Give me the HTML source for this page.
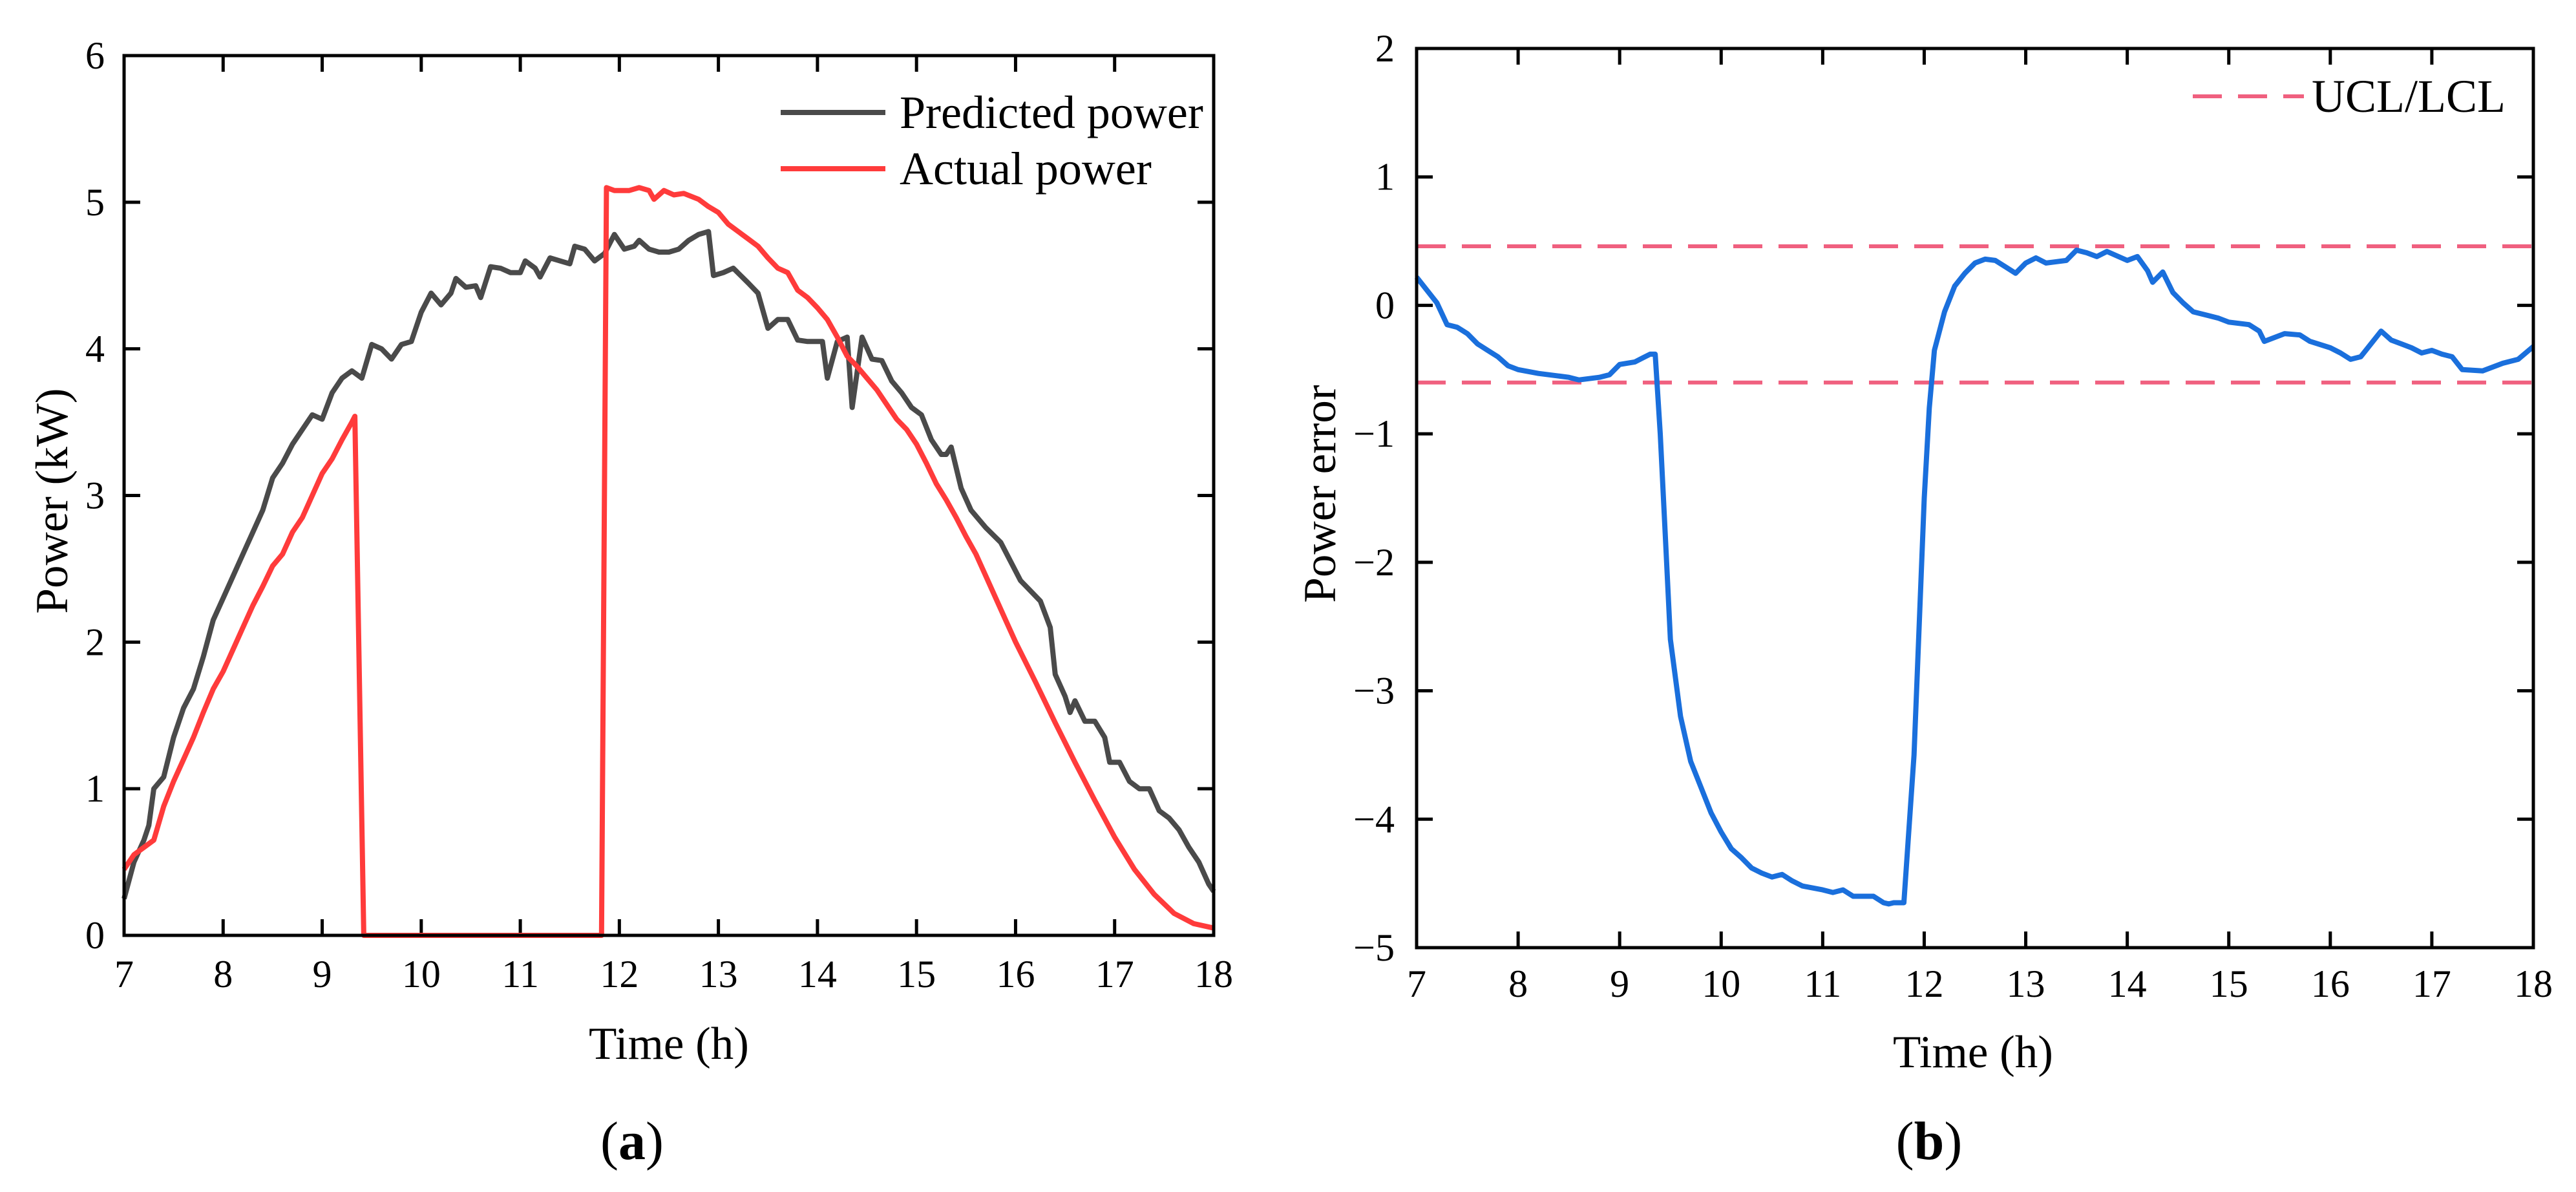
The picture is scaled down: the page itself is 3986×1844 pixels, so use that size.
<!DOCTYPE html>
<html><head><meta charset="utf-8"><style>
html,body{margin:0;padding:0;background:#fff;}
svg{display:block;font-family:"Liberation Serif",serif;}
</style></head><body>
<svg id="fig" width="3986" height="1844" viewBox="0 0 3986 1844" xmlns="http://www.w3.org/2000/svg">
<g id="pa"></g>
<g id="pb"></g>
</svg>
<script>
const xTicks = [7,8,9,10,11,12,13,14,15,16,17,18];
const yTicksA = [0,1,2,3,4,5,6];
const yTicksB = [2,1,0,-1,-2,-3,-4,-5];
const predT = [7.0,7.1,7.2,7.25,7.3,7.4,7.5,7.6,7.7,7.8,7.9,8.0,8.1,8.2,8.3,8.4,8.5,8.6,8.7,8.8,8.9,9.0,9.1,9.2,9.3,9.4,9.5,9.6,9.7,9.8,9.9,10.0,10.1,10.2,10.3,10.35,10.45,10.55,10.6,10.7,10.8,10.9,11.0,11.05,11.15,11.2,11.3,11.4,11.5,11.55,11.65,11.75,11.85,11.95,12.05,12.15,12.2,12.3,12.4,12.5,12.6,12.7,12.8,12.9,12.95,13.05,13.15,13.3,13.4,13.5,13.6,13.7,13.8,13.9,14.0,14.05,14.1,14.2,14.3,14.35,14.45,14.55,14.65,14.75,14.85,14.95,15.05,15.15,15.25,15.3,15.35,15.45,15.55,15.7,15.85,15.95,16.05,16.15,16.25,16.35,16.4,16.5,16.55,16.6,16.7,16.8,16.9,16.95,17.05,17.15,17.25,17.35,17.45,17.55,17.65,17.75,17.85,17.95,18.0];
const predV = [0.25,0.5,0.65,0.75,1.0,1.08,1.35,1.55,1.68,1.9,2.15,2.3,2.45,2.6,2.75,2.9,3.12,3.22,3.35,3.45,3.55,3.52,3.7,3.8,3.85,3.8,4.03,4.0,3.93,4.03,4.05,4.25,4.38,4.3,4.38,4.48,4.42,4.43,4.35,4.56,4.55,4.52,4.52,4.6,4.55,4.49,4.62,4.6,4.58,4.7,4.68,4.6,4.65,4.78,4.68,4.7,4.74,4.68,4.66,4.66,4.68,4.74,4.78,4.8,4.5,4.52,4.55,4.45,4.38,4.14,4.2,4.2,4.06,4.05,4.05,4.05,3.8,4.05,4.08,3.6,4.08,3.93,3.92,3.78,3.7,3.6,3.55,3.38,3.28,3.28,3.33,3.05,2.9,2.78,2.68,2.55,2.42,2.35,2.28,2.1,1.78,1.63,1.52,1.6,1.46,1.46,1.35,1.18,1.18,1.05,1.0,1.0,0.85,0.8,0.72,0.6,0.5,0.35,0.3];
const actT = [7.0,7.1,7.2,7.3,7.4,7.5,7.6,7.7,7.8,7.9,8.0,8.1,8.2,8.3,8.4,8.5,8.6,8.7,8.8,8.9,9.0,9.1,9.2,9.3,9.33,9.42,11.82,11.87,11.95,12.1,12.2,12.3,12.35,12.45,12.55,12.65,12.8,12.9,13.0,13.1,13.2,13.3,13.4,13.5,13.6,13.7,13.8,13.9,14.0,14.1,14.2,14.3,14.4,14.5,14.6,14.7,14.8,14.9,15.0,15.1,15.2,15.3,15.4,15.5,15.6,15.7,15.8,15.9,16.0,16.2,16.4,16.6,16.8,17.0,17.2,17.4,17.6,17.8,18.0];
const actV = [0.45,0.55,0.6,0.65,0.88,1.05,1.2,1.35,1.52,1.68,1.8,1.95,2.1,2.25,2.38,2.52,2.6,2.75,2.85,3.0,3.15,3.25,3.38,3.5,3.54,0,0,5.1,5.08,5.08,5.1,5.08,5.02,5.08,5.05,5.06,5.02,4.97,4.93,4.85,4.8,4.75,4.7,4.62,4.55,4.52,4.4,4.35,4.28,4.2,4.08,3.95,3.88,3.8,3.72,3.62,3.52,3.45,3.35,3.22,3.08,2.97,2.85,2.72,2.6,2.45,2.3,2.15,2.0,1.73,1.45,1.18,0.92,0.67,0.45,0.28,0.15,0.08,0.05];
const errT = [7.0,7.1,7.2,7.3,7.4,7.5,7.6,7.7,7.8,7.9,8.0,8.2,8.4,8.5,8.6,8.7,8.8,8.9,9.0,9.15,9.3,9.35,9.4,9.45,9.5,9.6,9.7,9.8,9.9,10.0,10.1,10.2,10.3,10.4,10.5,10.6,10.7,10.8,11.0,11.1,11.2,11.3,11.5,11.6,11.65,11.7,11.8,11.9,11.95,12.0,12.05,12.1,12.2,12.3,12.4,12.5,12.6,12.7,12.8,12.9,13.0,13.1,13.2,13.4,13.5,13.6,13.7,13.8,14.0,14.1,14.2,14.25,14.35,14.45,14.55,14.65,14.8,14.9,15.0,15.2,15.3,15.35,15.45,15.55,15.7,15.8,16.0,16.1,16.2,16.3,16.4,16.5,16.6,16.7,16.8,16.9,17.0,17.1,17.2,17.3,17.5,17.7,17.85,18.0];
const errV = [0.22,0.12,0.02,-0.15,-0.17,-0.22,-0.3,-0.35,-0.4,-0.47,-0.5,-0.53,-0.55,-0.56,-0.58,-0.57,-0.56,-0.54,-0.46,-0.44,-0.38,-0.38,-1.0,-1.8,-2.6,-3.2,-3.55,-3.75,-3.95,-4.1,-4.23,-4.3,-4.38,-4.42,-4.45,-4.43,-4.48,-4.52,-4.55,-4.57,-4.55,-4.6,-4.6,-4.65,-4.66,-4.65,-4.65,-3.5,-2.5,-1.5,-0.8,-0.35,-0.05,0.15,0.25,0.33,0.36,0.35,0.3,0.25,0.33,0.37,0.33,0.35,0.43,0.41,0.38,0.42,0.35,0.38,0.27,0.18,0.26,0.1,0.02,-0.05,-0.08,-0.1,-0.13,-0.15,-0.2,-0.28,-0.25,-0.22,-0.23,-0.28,-0.33,-0.37,-0.42,-0.4,-0.3,-0.2,-0.27,-0.3,-0.33,-0.37,-0.35,-0.38,-0.4,-0.5,-0.51,-0.45,-0.42,-0.32];
const ucl = 0.46, lcl = -0.6;

const NS = "http://www.w3.org/2000/svg";
function mk(parent, tag, attrs, text){
  const e = document.createElementNS(NS, tag);
  for (const k in attrs) e.setAttribute(k, attrs[k]);
  if (text !== undefined) e.textContent = text;
  parent.appendChild(e);
  return e;
}
function makeChart(g, L, R, T, B, ymin, ymax, yTicks, tickLabelBase, tickRight){
  const sx = v => L + (v - 7) / 11 * (R - L);
  const sy = v => B - (v - ymin) / (ymax - ymin) * (B - T);
  xTicks.forEach(t => {
    const x = sx(t);
    const a = mk(g,'line',{x1:x,y1:B,x2:x,y2:B-25,stroke:'#000','stroke-width':5});
     
    const b = mk(g,'line',{x1:x,y1:T,x2:x,y2:T+25,stroke:'#000','stroke-width':5});
     
    const l = mk(g,'text',{x:x,y:tickLabelBase,'text-anchor':'middle','font-size':60},String(t));
     
  });
  yTicks.forEach(t => {
    const y = sy(t);
    const a = mk(g,'line',{x1:L,y1:y,x2:L+25,y2:y,stroke:'#000','stroke-width':5});
     
    const b = mk(g,'line',{x1:R,y1:y,x2:R-25,y2:y,stroke:'#000','stroke-width':5});
     
    const l = mk(g,'text',{x:tickRight,y:y+20,'text-anchor':'end','font-size':60},t<0?('\u2212'+(-t)):String(t));
     
  });
  return {sx, sy};
}
function line(g, s, xs, ys, color, w, dash){
  const d = xs.map((x,i)=>(i?'L':'M')+s.sx(x).toFixed(1)+','+s.sy(ys[i]).toFixed(1)).join('');
  const p = mk(g,'path',{d:d,fill:'none',stroke:color,'stroke-width':w,'stroke-linejoin':'round'});
  if (dash) p.setAttribute('stroke-dasharray', dash);
  return p;
}
// Chart A
const ga = document.getElementById('pa');
const A = {L:192,R:1878,T:86,B:1447};
const sa = makeChart(ga, A.L, A.R, A.T, A.B, 0, 6, yTicksA, 1527, 162);
const pp = line(ga, sa, predT, predV, '#4a4a4a', 8);


const ap = line(ga, sa, actT, actV, '#ff3b3b', 8);


const fa = mk(ga,'rect',{x:A.L,y:A.T,width:A.R-A.L,height:A.B-A.T,fill:'none',stroke:'#000','stroke-width':5});


const lg1 = mk(ga,'line',{x1:1208,y1:174,x2:1370,y2:174,stroke:'#4a4a4a','stroke-width':8});


const lt1 = mk(ga,'text',{x:1392,y:198,'font-size':72},'Predicted power');


const lg2 = mk(ga,'line',{x1:1208,y1:261,x2:1370,y2:261,stroke:'#ff3b3b','stroke-width':8});


const lt2 = mk(ga,'text',{x:1392,y:285,'font-size':72},'Actual power');


const xa = mk(ga,'text',{x:1035,y:1638,'text-anchor':'middle','font-size':71},'Time (h)');


const ya = mk(ga,'text',{x:0,y:0,'text-anchor':'middle','font-size':71,transform:'translate(104,775) rotate(-90)'},'Power (kW)');


const ca = mk(ga,'text',{x:978,y:1793,'text-anchor':'middle','font-size':84},'');


mk(ca,'tspan',{},'(');mk(ca,'tspan',{'font-weight':'bold'},'a');mk(ca,'tspan',{},')');

// Chart B
const gb = document.getElementById('pb');
const Bc = {L:2192,R:3920,T:75,B:1466};
const sb = makeChart(gb, Bc.L, Bc.R, Bc.T, Bc.B, -5, 2, yTicksB, 1542, 2158);
const u = line(gb, sb, [7,18], [ucl,ucl], '#f0607f', 6, '45 25');


const lw = line(gb, sb, [7,18], [lcl,lcl], '#f0607f', 6, '45 25');


const ep = line(gb, sb, errT, errV, '#1a6fdc', 8);


const fb = mk(gb,'rect',{x:Bc.L,y:Bc.T,width:Bc.R-Bc.L,height:Bc.B-Bc.T,fill:'none',stroke:'#000','stroke-width':5});


const lg3 = mk(gb,'line',{x1:3393,y1:149,x2:3565,y2:149,stroke:'#f0607f','stroke-width':6,'stroke-dasharray':'45 25'});


const lt3 = mk(gb,'text',{x:3577,y:173,'font-size':72},'UCL/LCL');


const xb = mk(gb,'text',{x:3053,y:1651,'text-anchor':'middle','font-size':71},'Time (h)');


const yb = mk(gb,'text',{x:0,y:0,'text-anchor':'middle','font-size':71,transform:'translate(2066,764) rotate(-90)'},'Power error');


const cb = mk(gb,'text',{x:2985,y:1793,'text-anchor':'middle','font-size':84},'');


mk(cb,'tspan',{},'(');mk(cb,'tspan',{'font-weight':'bold'},'b');mk(cb,'tspan',{},')');
</script>
</body></html>
